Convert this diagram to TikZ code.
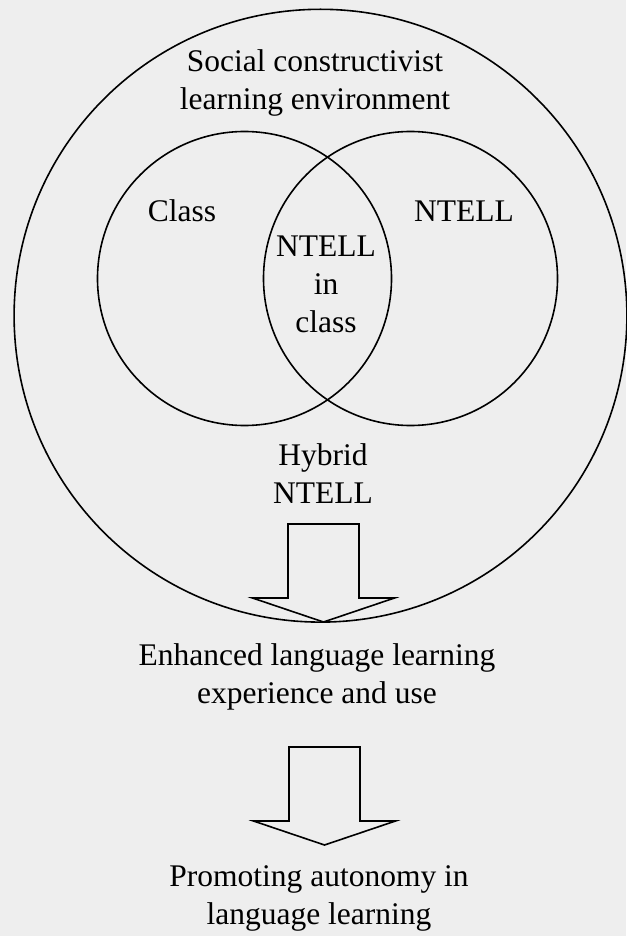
\documentclass[tikz,border=0pt]{standalone}
\usepackage{fontspec}
\setmainfont{Liberation Serif}
\definecolor{paper}{RGB}{238,238,238}
\newcommand{\bigarrow}[2]{
	(#1-35.5,#2) --
	++(71,0) --
	++(0,74) --
	++(35.5,0) --
	++(-71,24) --
	++(-71,-24) --
	++(35.5,0) --
	cycle}

\begin{document}
\begin{tikzpicture}[x=0.5pt,y=-0.5pt,line width=0.8pt,
	lbl/.style={align=center,anchor=base,inner sep=0pt,font=\fontsize{15.75}{19}\selectfont}]
	% page
	\fill[paper] (0,0) rectangle (626,936);
	\useasboundingbox (0,0) rectangle (626,936);

	% outer circle and the two sets
	\draw (320.5,315.7) circle (306.4);
	\draw (244.5,278.5) circle (147);
	\draw (410.5,278.5) circle (147);

	% labels inside (base = last line)
	\node[lbl] (social) at (315,110) {Social constructivist\\learning environment};
	\node[lbl] (class) at (182,221) {Class};
	\node[lbl] (ntell) at (464,221) {NTELL};
	\node[lbl] (inclass) at (326,332) {NTELL\\in\\class};
	\node[lbl] (hybrid) at (323,503) {Hybrid\\NTELL};

	% labels below
	\node[lbl] (enhanced) at (317,703) {Enhanced language learning\\experience and use};
	\node[lbl] (autonomy) at (319,924) {Promoting autonomy in\\language learning};

	% the two block arrows
	\draw[fill=paper]\bigarrow{323.5}{524};
	\draw[fill=paper]\bigarrow{324.5}{747};
\end{tikzpicture}
\end{document}
